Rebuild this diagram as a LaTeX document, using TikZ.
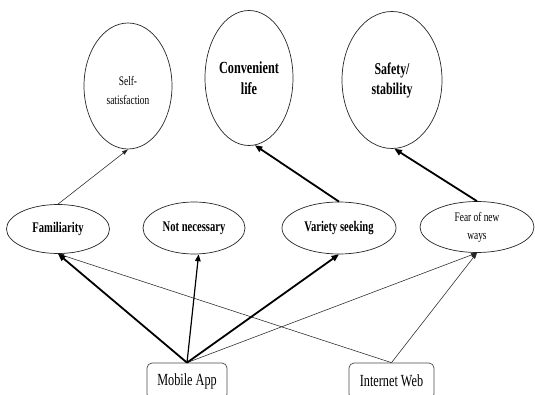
\documentclass[tikz,border=0pt]{standalone}
\usepackage{fontspec}
\setmainfont{Liberation Serif}[FakeStretch=0.72]
\usetikzlibrary{shapes.geometric,arrows.meta}
\tikzset{
  ell/.style={ellipse, draw=black!85, line width=0.7pt, inner sep=0pt, align=center, text=black},
  boxnode/.style={rectangle, rounded corners=5pt, draw=black!70, line width=0.7pt, minimum width=#1, minimum height=36pt, inner sep=0pt, font=\fontsize{17}{20}\selectfont},
  thickarr/.style={line width=1.8pt, -{Triangle[length=7.5pt,width=6pt]}},
  medarr/.style={line width=1.2pt, -{Triangle[length=7pt,width=5.5pt]}},
  thinarr/.style={line width=0.55pt, black!85, -{Triangle[length=6pt,width=4pt]}}
}
\begin{document}
\begin{tikzpicture}[x=1pt,y=-1pt]
\fill[white] (0,0) rectangle (535,395);
\useasboundingbox (0,0) rectangle (535,395);
% top ellipses
\node[ell, minimum width=88pt, minimum height=126pt, font=\fontsize{13}{19}\selectfont] (ss) at (128,86) {\raisebox{-8.5pt}[0pt][0pt]{\begin{tabular}{@{}c@{}}Self-\\satisfaction\end{tabular}}};
\node[ell, minimum width=88pt, minimum height=135pt, font=\bfseries\fontsize{17}{20.5}\selectfont] (cl) at (249,78) {Convenient\\life};
\node[ell, minimum width=100pt, minimum height=137pt, font=\bfseries\fontsize{16.5}{20}\selectfont] (sf) at (392,80) {Safety/\\stability};
% middle ellipses
\node[ell, minimum width=103pt, minimum height=49pt, font=\bfseries\fontsize{14.7}{17}\selectfont] (fam) at (58,229) {Familiarity};
\node[ell, minimum width=102pt, minimum height=52pt, font=\bfseries\fontsize{14.7}{17}\selectfont] (nn) at (194,228) {Not necessary};
\node[ell, minimum width=114pt, minimum height=52pt, font=\bfseries\fontsize{14.7}{17}\selectfont] (vs) at (339,228) {Variety seeking};
\node[ell, minimum width=114pt, minimum height=51pt, font=\fontsize{13}{18}\selectfont] (fn) at (477,227) {Fear of new\\ways};
% boxes
\node[boxnode=80pt] (ma) at (187,381) {Mobile App};
\node[boxnode=85pt] (iw) at (391.5,381) {Internet Web};
% arrows to top
\draw[thinarr] (fam.north) -- (ss.south);
\draw[thickarr] (vs.north) -- (cl.-85);
\draw[thickarr] (fn.north) -- (sf.-88);
% arrows from boxes
\draw[thinarr] (iw.north) -- (fam.south);
\draw[thinarr] (iw.north) -- (fn.south);
\draw[thinarr] (ma.north) -- (fn.south);
\draw[thickarr] (ma.north) -- (fam.south);
\draw[medarr] (ma.north) -- (nn.-80);
\draw[thickarr] (ma.north) -- (vs.south);
\end{tikzpicture}
\end{document}
